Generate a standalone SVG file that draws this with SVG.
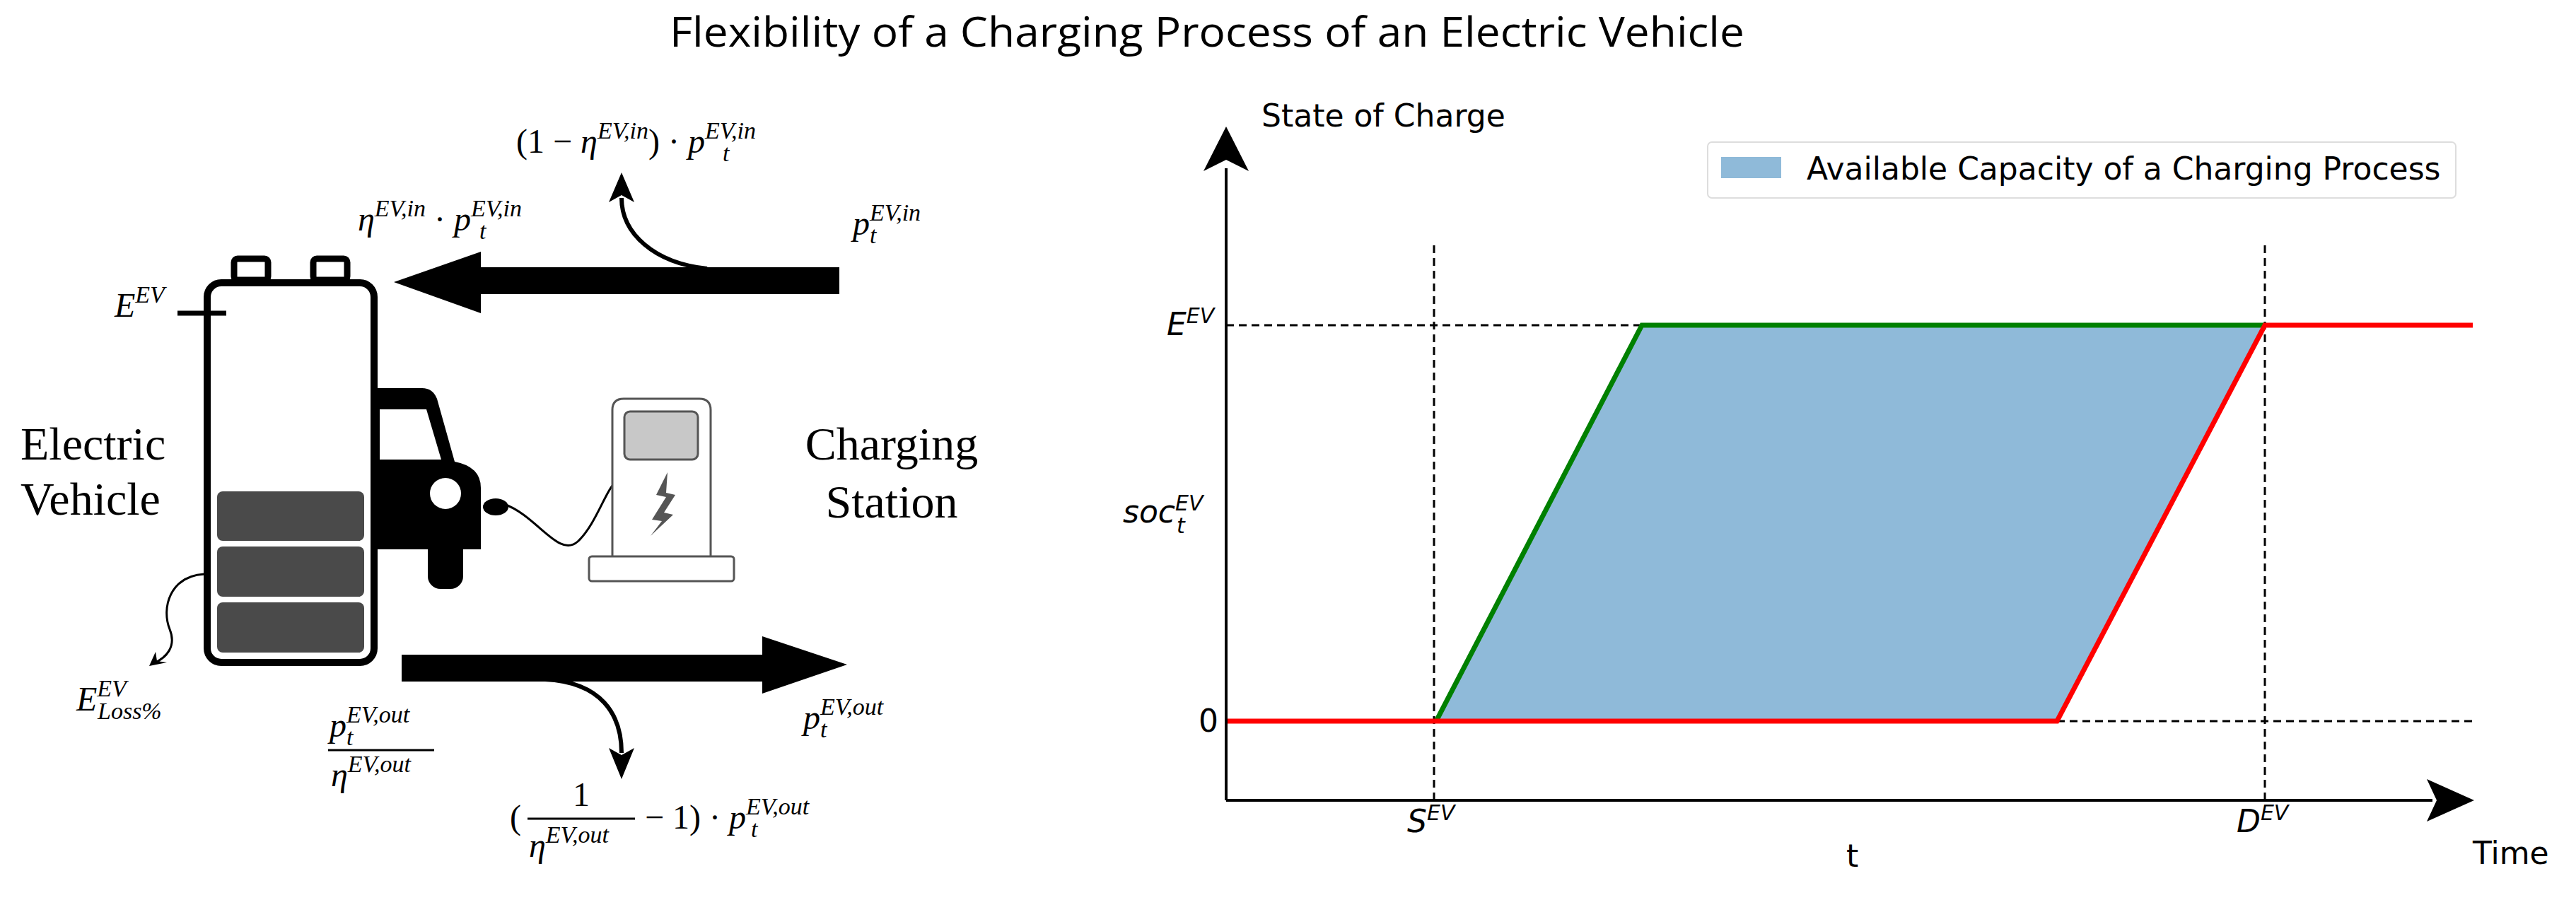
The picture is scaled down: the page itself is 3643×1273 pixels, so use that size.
<svg xmlns="http://www.w3.org/2000/svg" width="3643" height="1273" viewBox="0 0 3643 1273">
<style>
.m{font-family:"Liberation Serif",serif;font-size:48px;fill:#000}
.i{font-style:italic}
.s{font-size:34px}
.lbl{font-family:"Liberation Serif",serif;font-size:66px;fill:#000}
.ax{font-family:"DejaVu Sans",sans-serif;font-size:44px;fill:#000}
.dash{stroke:#000;stroke-width:3;stroke-dasharray:11 7;fill:none}
</style>
<rect width="3643" height="1273" fill="#fff"/>
<text x="1707" y="66" text-anchor="middle" font-family="Open Sans, sans-serif" font-size="58" textLength="1520" lengthAdjust="spacingAndGlyphs">Flexibility of a Charging Process of an Electric Vehicle</text>

<g id="battery">
<rect x="331" y="366" width="48" height="30" rx="5" fill="#fff" stroke="#000" stroke-width="9"/>
<rect x="443" y="366" width="48" height="30" rx="5" fill="#fff" stroke="#000" stroke-width="9"/>
<rect x="293" y="400" width="236" height="537" rx="20" fill="#fff" stroke="#000" stroke-width="10"/>
<rect x="307" y="695" width="208" height="70" rx="8" fill="#4a4a4a"/>
<rect x="307" y="773" width="208" height="71" rx="8" fill="#4a4a4a"/>
<rect x="307" y="852" width="208" height="71" rx="8" fill="#4a4a4a"/>
<line x1="251" y1="443" x2="320" y2="443" stroke="#000" stroke-width="7"/>
</g>
<g id="car">
<path d="M534,549 H597 Q612,549 618,564 L643,653 Q680,660 680,690 V777 H534 Z" fill="#000"/>
<path d="M537,579 H603 L624,650 H537 Z" fill="#fff"/>
<rect x="605" y="760" width="50" height="73" rx="18" fill="#000"/>
<circle cx="630" cy="698" r="22" fill="#fff"/>
<ellipse cx="701" cy="717" rx="18" ry="12" fill="#000"/>
<path d="M713,713 C760,730 790,790 817,766 C840,745 855,700 866,687" fill="none" stroke="#000" stroke-width="3"/>
</g>
<g id="station">
<path d="M866,788 V580 Q866,564 882,564 H989 Q1005,564 1005,580 V788" fill="#fff" stroke="#555" stroke-width="3"/>
<rect x="883" y="582" width="104" height="68" rx="8" fill="#c8c8c8" stroke="#555" stroke-width="3"/>
<rect x="833" y="787" width="205" height="35" rx="4" fill="#fff" stroke="#555" stroke-width="3"/>
<path d="M944,668 L928,700 L942,703 L922,735 L936,737 L920,758 L952,728 L939,725 L955,700 L942,697 Z" fill="#555"/>
</g>
<g id="connectors">
<path d="M1187,378 V416 H680 V443 L557,399 L680,356 V378 Z" fill="#000"/>
<path d="M1000,380 C925,372 879,330 879,280" fill="none" stroke="#000" stroke-width="6"/>
<path d="M879,244 L861,286 L879,276 L897,286 Z" fill="#000"/>
<path d="M568,926 H1078 V900 L1198,940 L1078,981 V964 H568 Z" fill="#000"/>
<path d="M771,961 C850,965 879,1010 879,1065" fill="none" stroke="#000" stroke-width="6"/>
<path d="M879,1102 L861,1058 L879,1068 L897,1058 Z" fill="#000"/>
<path d="M289,812 C240,815 228,860 240,890 C250,915 235,930 218,938" fill="none" stroke="#000" stroke-width="3"/>
<path d="M211,942 L220,922 L222,935 L236,937 Z" fill="#000"/>
</g>
<g id="labels">
<text class="lbl" x="29" y="650">Electric</text>
<text class="lbl" x="29" y="728">Vehicle</text>
<text class="lbl" x="1261" y="650" text-anchor="middle">Charging</text>
<text class="lbl" x="1261" y="732" text-anchor="middle">Station</text>
<text class="m" x="730" y="216">(1 − <tspan class="i">η</tspan><tspan class="i s" dy="-20">EV,in</tspan><tspan dy="20">) · </tspan><tspan class="i">p</tspan><tspan class="i s" dy="-20">EV,in</tspan><tspan class="i s" x="1022" dy="32">t</tspan></text>
<text class="m" x="506" y="326"><tspan class="i">η</tspan><tspan class="i s" dy="-20">EV,in</tspan><tspan dy="20"> · </tspan><tspan class="i">p</tspan><tspan class="i s" dy="-20">EV,in</tspan><tspan class="i s" x="678" dy="32">t</tspan></text>
<text class="m" x="1206" y="332"><tspan class="i">p</tspan><tspan class="i s" dy="-20">EV,in</tspan><tspan class="i s" x="1230" dy="32">t</tspan></text>
<text class="m" x="162" y="448"><tspan class="i">E</tspan><tspan class="i s" dy="-20">EV</tspan></text>
<text class="m" x="108" y="1005"><tspan class="i">E</tspan><tspan class="i s" dy="-20">EV</tspan><tspan class="i s" x="138" dy="32">Loss%</tspan></text>
<text class="m" x="466" y="1042"><tspan class="i">p</tspan><tspan class="i s" dy="-20">EV,out</tspan><tspan class="i s" x="490" dy="32">t</tspan></text>
<line x1="464" y1="1061" x2="614" y2="1061" stroke="#000" stroke-width="3"/>
<text class="m" x="468" y="1112"><tspan class="i">η</tspan><tspan class="i s" dy="-20">EV,out</tspan></text>
<text class="m" x="1136" y="1031"><tspan class="i">p</tspan><tspan class="i s" dy="-20">EV,out</tspan><tspan class="i s" x="1160" dy="32">t</tspan></text>
<text class="m" x="721" y="1172">(</text>
<text class="m" x="822" y="1140" text-anchor="middle">1</text>
<line x1="746" y1="1158" x2="898" y2="1158" stroke="#000" stroke-width="3"/>
<text class="m" x="748" y="1212"><tspan class="i">η</tspan><tspan class="i s" dy="-20">EV,out</tspan></text>
<text class="m" x="912" y="1172">− 1) · <tspan class="i">p</tspan><tspan class="i s" dy="-20">EV,out</tspan><tspan class="i s" x="1062" dy="32">t</tspan></text>
</g>

<g id="chart">
<polygon points="2031,1020 2322,460 3203,460 2909,1020" fill="#8fbad9"/>
<line class="dash" x1="1734" y1="460" x2="2322" y2="460"/>
<line class="dash" x1="2909" y1="1020" x2="3497" y2="1020"/>
<line class="dash" x1="2028" y1="347" x2="2028" y2="1132"/>
<line class="dash" x1="3203" y1="347" x2="3203" y2="1132"/>
<polyline points="2031,1020 2322,460 3203,460" fill="none" stroke="#008000" stroke-width="7"/>
<polyline points="1734,1020 2909,1020 3203,460 3497,460" fill="none" stroke="#ff0000" stroke-width="7"/>
<line x1="1734" y1="238" x2="1734" y2="1132" stroke="#000" stroke-width="4"/>
<line x1="1734" y1="1132" x2="3440" y2="1132" stroke="#000" stroke-width="4"/>
<path d="M1734,179 L1766,242 L1734,226 L1702,242 Z" fill="#000"/>
<path d="M3499,1132 L3432,1102 L3446,1132 L3432,1162 Z" fill="#000"/>
<rect x="2415" y="201" width="1058" height="79" rx="6" fill="#fff" stroke="#ddd" stroke-width="2"/>
<rect x="2434" y="222" width="85" height="30" fill="#8fbad9"/>
<text class="ax" x="2555" y="254">Available Capacity of a Charging Process</text>
<text class="ax" x="1784" y="179">State of Charge</text>
<text class="ax" x="1650" y="474"><tspan font-style="italic">E</tspan><tspan font-style="italic" font-size="30" dy="-17">EV</tspan></text>
<text class="ax" x="1588" y="739"><tspan font-style="italic">soc</tspan><tspan font-style="italic" font-size="30" dy="-17">EV</tspan><tspan font-style="italic" font-size="30" x="1664" dy="32">t</tspan></text>
<text class="ax" x="1695" y="1035">0</text>
<text class="ax" x="1990" y="1177"><tspan font-style="italic">S</tspan><tspan font-style="italic" font-size="30" dy="-17">EV</tspan></text>
<text class="ax" x="3163" y="1177"><tspan font-style="italic">D</tspan><tspan font-style="italic" font-size="30" dy="-17">EV</tspan></text>
<text class="ax" x="2611" y="1226">t</text>
<text class="ax" x="3497" y="1222">Time</text>
</g>
</svg>
